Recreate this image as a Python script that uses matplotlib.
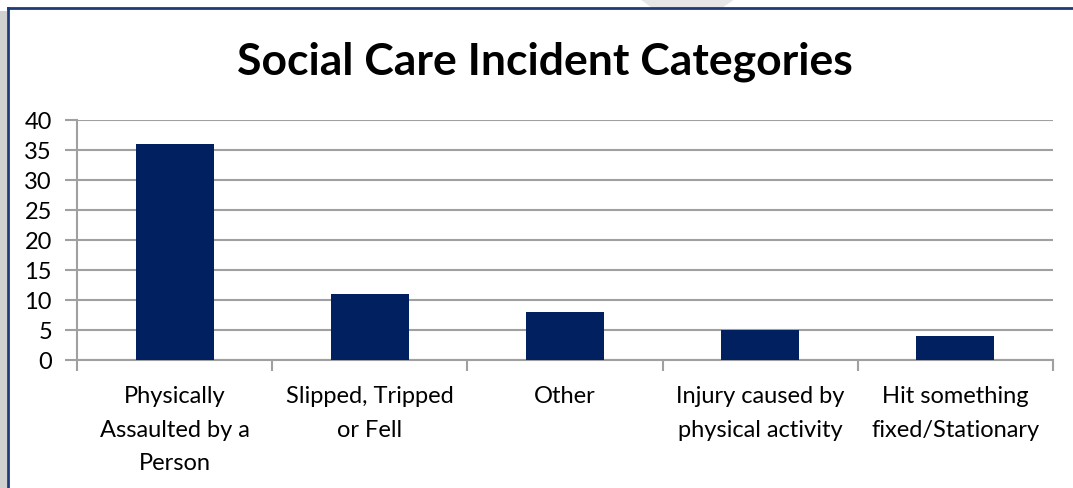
import matplotlib.pyplot as plt
from matplotlib.lines import Line2D
from matplotlib.patches import Rectangle, Polygon
import numpy as np

categorias = ["Physically\nAssaulted by a\nPerson", "Slipped, Tripped\nor Fell", "Other",
              "Injury caused by\nphysical activity", "Hit something\nfixed/Stationary"]
valores = [36, 11, 8, 5, 4]
ticks_y = [0, 5, 10, 15, 20, 25, 30, 35, 40]

plt.rcParams['font.family'] = ['Lato', 'DejaVu Sans']

W, H = 1073, 489
fig = plt.figure(figsize=(W / 100, H / 100), dpi=100)

# sombra y marco
fig.add_artist(Rectangle((0, 0), 7 / W, (H - 12) / H, transform=fig.transFigure,
                         color='#d0d0d0', lw=0))
fig.add_artist(Polygon([(640 / W, 1), (735 / W, 1), (722 / W, (H - 9) / H), (652 / W, (H - 9) / H)],
                       closed=True, transform=fig.transFigure, color='#e6e6e6', lw=0))
fig.add_artist(Line2D([8 / W, 8 / W], [0, (H - 9) / H], transform=fig.transFigure,
                      color='#1f3a78', lw=2))
fig.add_artist(Line2D([8 / W, 1], [(H - 9) / H, (H - 9) / H], transform=fig.transFigure,
                      color='#1f3a78', lw=2))

ax = fig.add_axes([77 / W, (H - 361) / H, (1053 - 77) / W, 240 / H])

x = np.arange(len(categorias))
ax.bar(x, valores, width=0.4, color='#002060', zorder=3)

ax.set_xlim(-0.5, len(categorias) - 0.5)
ax.set_ylim(0, 40)
ax.set_yticks(ticks_y)
ax.yaxis.grid(True, color='#a0a0a0', lw=1.5, zorder=0)
ax.set_xticks(x)
ax.set_xticklabels(categorias, fontsize=17, linespacing=1.75)
ax.set_xticks(np.arange(-0.5, len(categorias), 1), minor=True)
ax.tick_params(axis='x', which='major', length=0, pad=18)
ax.tick_params(axis='x', which='minor', length=8, width=1.5, color='#a0a0a0')
ax.tick_params(axis='y', length=9, width=1.5, color='#a0a0a0', labelsize=17, pad=9)

for lado in ['top', 'right']:
    ax.spines[lado].set_visible(False)
for lado in ['left', 'bottom']:
    ax.spines[lado].set_color('#a0a0a0')
    ax.spines[lado].set_linewidth(1.5)

fig.text(545 / W, (H - 62) / H, "Social Care Incident Categories", fontsize=32,
         fontweight='bold', ha='center', va='center')

fig.savefig("out.png", dpi=100)
